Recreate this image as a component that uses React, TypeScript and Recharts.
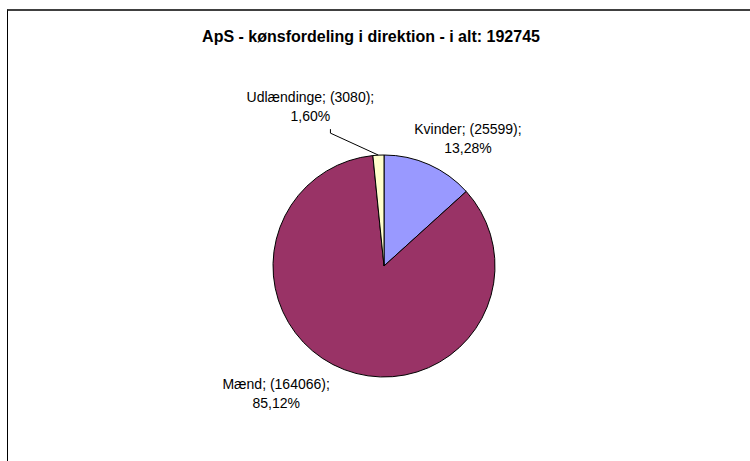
import { PieChart, Pie, Cell } from "recharts";

const TITLE = "ApS - kønsfordeling i direktion - i alt: 192745";
const NAMES = ["Kvinder", "Mænd", "Udlændinge"];
const COUNTS = [25599, 164066, 3080];
const PERCENTS = ["13,28%", "85,12%", "1,60%"];
const COLORS = ["#9999FF", "#993366", "#FFFFCC"];

// where each label sits, measured from the point on the rim at the slice middle
const LABEL_OFFSET = [
  { dx: 39, dy: -27 },
  { dx: -68, dy: 23 },
  { dx: -68, dy: -49 },
];

const FONT = '"Liberation Sans", Arial, sans-serif';
const RADIAN = Math.PI / 180;

const data = NAMES.map((name, i) => ({ name, value: COUNTS[i] }));

function renderLabel(props: any) {
  const { cx, cy, midAngle, outerRadius, index } = props;
  const ex = cx + outerRadius * Math.cos(-midAngle * RADIAN);
  const ey = cy + outerRadius * Math.sin(-midAngle * RADIAN);
  const off = LABEL_OFFSET[index];
  const lx = ex + off.dx;
  const ly = ey + off.dy;
  return (
    <g key={`lbl-${index}`}>
      {index === 2 && (
        <polyline
          points={`${lx + 20},${ly + 23} ${lx + 20},${ly + 27} ${ex},${ey}`}
          fill="none"
          stroke="#000"
          strokeWidth={1}
        />
      )}
      <text
        x={lx}
        y={ly}
        textAnchor="middle"
        fontFamily={FONT}
        fontSize={14}
        fill="#000"
      >
        <tspan x={lx} dy={-4}>{`${NAMES[index]}; (${COUNTS[index]});`}</tspan>
        <tspan x={lx} dy={19}>{PERCENTS[index]}</tspan>
      </text>
    </g>
  );
}

export default function App() {
  return (
    <div
      style={{
        position: "absolute",
        left: 0,
        top: 0,
        width: 750,
        height: 461,
        overflow: "hidden",
        background: "#fff",
      }}
    >
      <div
        style={{
          position: "absolute",
          left: 7,
          top: 9,
          width: 800,
          height: 500,
          borderTop: "2px solid #404040",
          borderLeft: "1px solid #000",
        }}
      />
      <div
        style={{
          position: "absolute",
          left: 0,
          top: 28,
          width: 742,
          textAlign: "center",
          fontFamily: FONT,
          fontWeight: "bold",
          fontSize: 16,
          color: "#000",
        }}
      >
        {TITLE}
      </div>
      <div style={{ position: "absolute", left: 0, top: 0 }}>
        <PieChart
          width={750}
          height={461}
          margin={{ top: 0, right: 0, bottom: 0, left: 0 }}
        >
          <Pie
            data={data}
            dataKey="value"
            nameKey="name"
            cx={384}
            cy={266}
            outerRadius={111}
            startAngle={90}
            endAngle={-270}
            stroke="#000"
            strokeWidth={1}
            label={renderLabel}
            labelLine={false}
            isAnimationActive={false}
          >
            {data.map((_, i) => (
              <Cell key={i} fill={COLORS[i]} />
            ))}
          </Pie>
        </PieChart>
      </div>
    </div>
  );
}
